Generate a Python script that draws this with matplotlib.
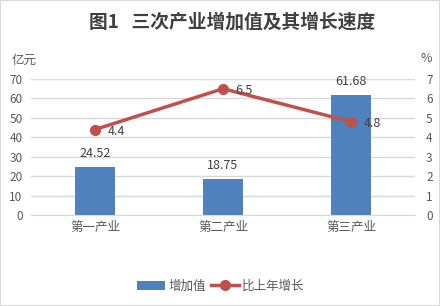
import matplotlib
matplotlib.use("Agg")
import matplotlib.pyplot as plt
from matplotlib.patches import Rectangle

plt.rcParams['font.family'] = ['Noto Sans CJK SC', 'DejaVu Sans']

categories = ["第一产业", "第二产业", "第三产业"]
added_value = [24.52, 18.75, 61.68]
growth = [4.4, 6.5, 4.8]
left_ticks = [0, 10, 20, 30, 40, 50, 60, 70]
right_ticks = [0, 1, 2, 3, 4, 5, 6, 7]

bar_color = "#4F81BD"
line_color = "#C0504D"
text_color = "#595959"

fig = plt.figure(figsize=(4.4, 3.06), dpi=100)
fig.patches.append(Rectangle((0, 0), 1, 1, transform=fig.transFigure,
                             fill=False, edgecolor="#D9D9D9", linewidth=1.5))
W, H = 440, 306
x0, x1, y0, y1 = 31, 415, 215, 79
ax = fig.add_axes([x0 / W, 1 - y0 / H, (x1 - x0) / W, (y0 - y1) / H])
ax2 = ax.twinx()

xs = list(range(len(categories)))
ax.bar(xs, added_value, width=0.31, color=bar_color, zorder=2, label="增加值")
ax.set_xlim(-0.5, 2.5)
ax.set_ylim(0, 70)
ax.set_yticks(left_ticks)
ax.grid(axis='y', color="#D9D9D9", linewidth=1, zorder=0)
ax.set_xticks(xs)
ax.set_xticklabels(categories, fontsize=9, color=text_color)
ax.tick_params(axis='both', length=0, pad=4)
ax.tick_params(axis='y', labelsize=8.5, labelcolor=text_color, pad=6)
for s in ax.spines.values():
    s.set_visible(False)
ax.spines['bottom'].set_visible(True)
ax.spines['bottom'].set_color("#D9D9D9")
for i, v in enumerate(added_value):
    ax.annotate(f"{v:.2f}", (xs[i], v), xytext=(0, 5), textcoords='offset points',
                ha='center', va='bottom', fontsize=9, color="#404040")

ax2.plot(xs, growth, color=line_color, linewidth=2.5, marker='o', markersize=7,
         zorder=3, label="比上年增长")
ax2.set_ylim(0, 7)
ax2.set_yticks(right_ticks)
ax2.tick_params(axis='y', length=0, labelsize=8.5, labelcolor=text_color, pad=8)
for s in ax2.spines.values():
    s.set_visible(False)
for i, v in enumerate(growth):
    ax2.annotate(f"{v}", (xs[i], v), xytext=(9, -1.5), textcoords='offset points',
                 ha='left', va='center', fontsize=9, color="#404040")

fig.text(232 / W, 1 - 22 / H, "图1   三次产业增加值及其增长速度", ha='center', va='center',
         fontsize=13.5, fontweight='bold', color="#404040")
fig.text(12 / W, 1 - 60 / H, "亿元", ha='left', va='center', fontsize=9, color=text_color)
fig.text(426 / W, 1 - 59 / H, "%", ha='center', va='center', fontsize=9, color=text_color)

h1, l1 = ax.get_legend_handles_labels()
h2, l2 = ax2.get_legend_handles_labels()
fig.legend(h1 + h2, l1 + l2, loc='center', bbox_to_anchor=(221 / W, 1 - 286 / H),
           ncol=2, frameon=False, fontsize=9, handlelength=2.2, handletextpad=0.3,
           columnspacing=0.4, labelcolor=text_color)

fig.savefig("out.png", dpi=100)
